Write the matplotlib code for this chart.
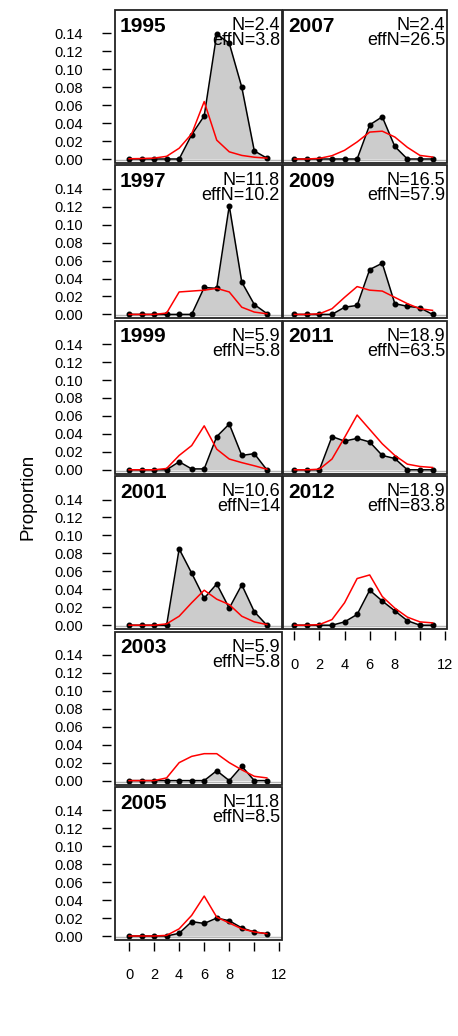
import matplotlib
matplotlib.use('Agg')
import matplotlib.pyplot as plt
from matplotlib.patches import Rectangle

plt.rcParams['font.family'] = ['Liberation Sans', 'DejaVu Sans']

# age classes on the x axis
ages = list(range(12))
years = ['1995', '1997', '1999', '2001', '2003', '2005', '2007', '2009', '2011', '2012']
n_vals = ['2.4', '11.8', '5.9', '10.6', '5.9', '11.8', '2.4', '16.5', '18.9', '18.9']
effn_vals = ['3.8', '10.2', '5.8', '14', '5.8', '8.5', '26.5', '57.9', '63.5', '83.8']

# observed proportions (black, filled)
obs_1995 = [0, 0, 0, 0, 0, 0.027, 0.048, 0.139, 0.129, 0.080, 0.009, 0.001]
obs_1997 = [0, 0, 0, 0, 0, 0, 0.030, 0.029, 0.121, 0.036, 0.011, 0.001]
obs_1999 = [0, 0, 0, 0, 0.009, 0.001, 0.001, 0.037, 0.051, 0.016, 0.018, 0]
obs_2001 = [0, 0, 0, 0, 0.085, 0.058, 0.030, 0.046, 0.019, 0.045, 0.015, 0]
obs_2003 = [0, 0, 0, 0, 0, 0, 0, 0.011, 0, 0.016, 0, 0]
obs_2005 = [0, 0, 0, 0, 0.003, 0.016, 0.014, 0.020, 0.017, 0.009, 0.0045, 0.0026]
obs_2007 = [0, 0, 0, 0, 0, 0, 0.038, 0.047, 0.014, 0, 0, 0]
obs_2009 = [0, 0, 0, 0, 0.008, 0.010, 0.050, 0.057, 0.012, 0.009, 0.0074, 0]
obs_2011 = [0, 0, 0, 0.037, 0.032, 0.035, 0.031, 0.016, 0.0126, 0, 0, 0]
obs_2012 = [0, 0, 0, 0, 0.0037, 0.012, 0.039, 0.027, 0.016, 0.005, 0, 0]

# expected proportions (red line)
exp_1995 = [0.0003, 0.0005, 0.001, 0.003, 0.012, 0.028, 0.064, 0.021, 0.008, 0.004, 0.002, 0.001]
exp_1997 = [0, 0, 0, 0.0015, 0.025, 0.026, 0.027, 0.029, 0.025, 0.008, 0.0026, 0.0007]
exp_1999 = [0, 0, 0, 0.0015, 0.016, 0.027, 0.049, 0.023, 0.012, 0.008, 0.0045, 0.0007]
exp_2001 = [0, 0, 0, 0.0015, 0.010, 0.025, 0.039, 0.029, 0.023, 0.010, 0.0037, 0.0007]
exp_2003 = [0, 0, 0, 0.003, 0.020, 0.027, 0.030, 0.030, 0.020, 0.012, 0.0048, 0.003]
exp_2005 = [0, 0, 0, 0.0007, 0.008, 0.023, 0.0445, 0.021, 0.0145, 0.008, 0.0045, 0.0026]
exp_2007 = [0, 0, 0.0007, 0.0037, 0.0097, 0.019, 0.030, 0.031, 0.0245, 0.013, 0.004, 0.0022]
exp_2009 = [0, 0, 0.0007, 0.0063, 0.019, 0.031, 0.027, 0.026, 0.019, 0.012, 0.0063, 0.0045]
exp_2011 = [0, 0, 0.0007, 0.012, 0.036, 0.061, 0.045, 0.029, 0.016, 0.0063, 0.0037, 0.0026]
exp_2012 = [0, 0, 0.0007, 0.0063, 0.025, 0.052, 0.056, 0.032, 0.019, 0.009, 0.0037, 0.0026]

obs_all = [obs_1995, obs_1997, obs_1999, obs_2001, obs_2003, obs_2005,
           obs_2007, obs_2009, obs_2011, obs_2012]
exp_all = [exp_1995, exp_1997, exp_1999, exp_2001, exp_2003, exp_2005,
           exp_2007, exp_2009, exp_2011, exp_2012]

W, H = 458, 1036
fig = plt.figure(figsize=(W / 100, H / 100), dpi=100)

# column geometry in pixels: left, width, xlim
cols = [(114.5, 167.0, (-1.16, 12.17)), (283.0, 163.7, (-0.9, 12.13))]
ph = 153.0
tops = [10 + 155.4 * i for i in range(6)]
rows_in_col = [6, 4]

yticks = [0, 0.02, 0.04, 0.06, 0.08, 0.10, 0.12, 0.14]
xticks = [0, 2, 4, 6, 8, 10, 12]
xlabels = ['0', '2', '4', '6', '8', '', '12']

k = 0
for c in range(2):
    x0, w, xl = cols[c]
    for r in range(rows_in_col[c]):
        top = tops[r]
        ax = fig.add_axes([x0 / W, 1 - (top + ph) / H, w / W, ph / H])
        obs = obs_all[k]
        exp = exp_all[k]
        ax.fill_between(ages, obs, 0, color='#cccccc', lw=0, zorder=1)
        ax.axhline(-0.0012, color='#b5b5b5', lw=1, zorder=1.5)
        ax.plot(ages, obs, color='black', lw=1.1, marker='o', ms=3.3, zorder=2)
        ax.plot(ages, exp, color='red', lw=1.1, zorder=3)
        ax.set_xlim(xl)
        ax.set_ylim(-0.00445, 0.166)

        for s in ax.spines.values():
            s.set_visible(False)
        ax.spines['left'].set_position(('outward', 2.2))
        ax.spines['bottom'].set_position(('outward', 1.5))
        ax.add_patch(Rectangle((0, 0), 1, 1, transform=ax.transAxes, fill=False,
                               lw=1.3, ec='#222222', clip_on=False, zorder=5))

        if c == 0:
            ax.set_yticks(yticks)
            ax.set_yticklabels(['%.2f' % v for v in yticks])
            ax.tick_params(axis='y', length=6.5, width=1, pad=14, labelsize=10.5)
        else:
            ax.set_yticks([])
        if r == rows_in_col[c] - 1:
            ax.set_xticks(xticks)
            ax.set_xticklabels(xlabels)
            ax.tick_params(axis='x', length=6.5, width=1, pad=12.5, labelsize=10.5)
        else:
            ax.set_xticks([])

        ax.text(5.5 / w, 1 - 21.7 / ph, years[k], transform=ax.transAxes,
                ha='left', va='baseline', fontsize=15, fontweight='bold')
        ax.text(1 - 1.5 / w, 1 - 20 / ph, 'N=' + n_vals[k], transform=ax.transAxes,
                ha='right', va='baseline', fontsize=13)
        ax.text(1 - 1.5 / w, 1 - 35 / ph, 'effN=' + effn_vals[k], transform=ax.transAxes,
                ha='right', va='baseline', fontsize=13)
        k += 1

fig.text(28 / W, 1 - 497 / H, 'Proportion', rotation=90, fontsize=13.5,
         ha='center', va='center')

plt.savefig('out.png', dpi=100)
